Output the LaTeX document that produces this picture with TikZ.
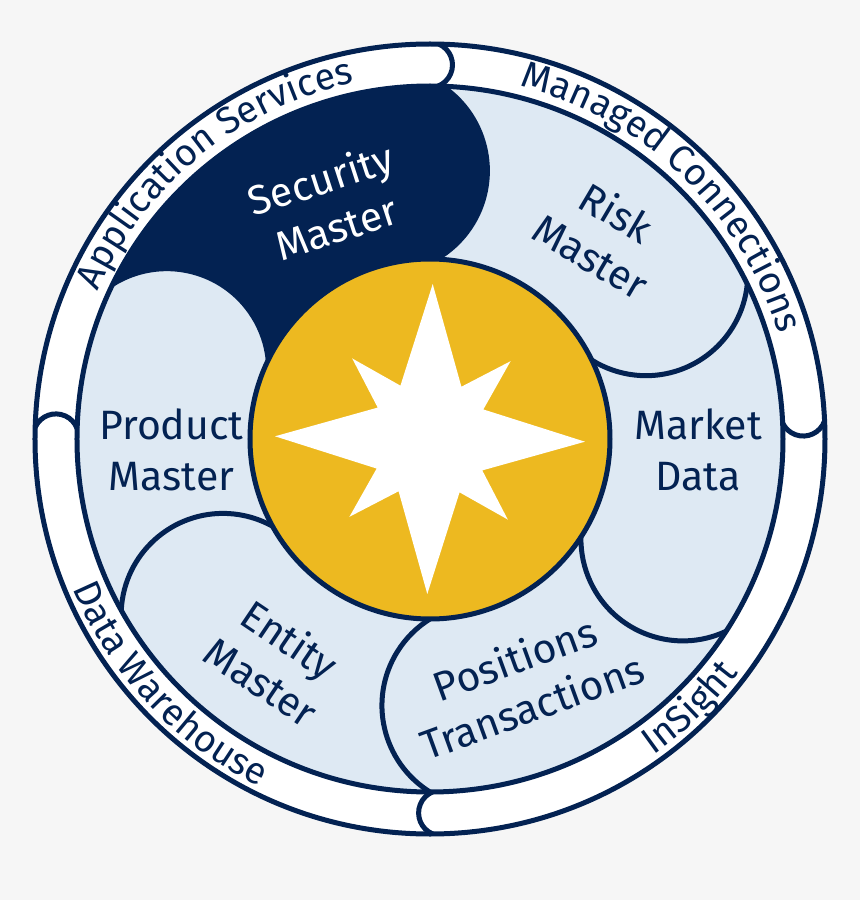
\documentclass[tikz,border=0pt]{standalone}
\usepackage{fontspec}
\setmainfont{Fira Sans}
\usetikzlibrary{decorations.text}
\definecolor{navy}{RGB}{3,34,82}
\definecolor{gold}{RGB}{237,185,32}
\definecolor{pale}{RGB}{222,233,243}
\definecolor{bgc}{RGB}{246,246,246}
\newcommand{\ringfont}{\fontsize{37.5}{40}\selectfont}
\begin{document}
\begin{tikzpicture}[x=1pt,y=1pt,
  lbl/.style={font=\fontsize{41}{51}\selectfont, align=center, text=navy, inner sep=0pt},
  capline/.style={draw=navy, line width=5pt},
  ringline/.style={draw=navy, line width=5pt},
  ringtext/.style={decorate, decoration={text along path, text align=center, text={|\ringfont\color{navy}|#1}}}
]
\fill[bgc] (-430,-461) rectangle (430,439);
\useasboundingbox (-430,-461) rectangle (430,439);
% outer ring band
\fill[white] (0,0) circle[radius=395];
\fill[pale] (0,0) circle[radius=353];
% Security Master segment (navy), cut by the Product Master cap
\fill[navy] (154:353) arc[start angle=154, end angle=88, radius=353]
   arc[start angle=56.1, end angle=-60.1, radius=101.9]
   arc[start angle=88, end angle=154, radius=180]
   arc[start angle=5.9, end angle=122.1, radius=101.9] -- cycle;
% cap outlines of the six segments
\foreach \t in {88,26,-33,-90,-151,154}{
  \draw[capline] (\t:353) arc[start angle={\t-31.9}, end angle={\t-148.1}, radius=101.9];
}
% ring lines and joins
\draw[ringline] (0,0) circle[radius=395];
\draw[ringline] (0,0) circle[radius=353];
\foreach \t in {88.7,2.6,178.3,-89.6}{
  \draw[ringline] (\t:395) arc[start angle={\t-22.6}, end angle={\t-157.4}, radius=22.75];
}
% centre disc and star
\draw[navy, line width=5pt, fill=gold] (0,0) circle[radius=180];
\fill[white, rotate=-1] (90:155) -- (60:61) -- (45:112) -- (30:61) -- (0:155) -- (-30:61)
  -- (-45:112) -- (-60:61) -- (-90:155) -- (-120:61) -- (-135:112) -- (-150:61)
  -- (180:155) -- (150:61) -- (135:112) -- (120:61) -- cycle;
% segment labels
\node[lbl, text=white, rotate=18] (sec) at (-102,236) {Security\\Master};
\node[lbl, rotate=-30.5] (risk) at (174,205) {Risk\\Master};
\node[lbl] (mkt) at (268,-11) {Market\\Data};
\node[lbl, rotate=20] (pos) at (93.5,-243) {Positions\\Transactions};
\node[lbl, rotate=-34] (ent) at (-154,-221) {Entity\\Master};
\node[lbl] (prod) at (-258.4,-11) {Product\\Master};
% ring labels
\path[ringtext={Application Services}] (199:364) arc[start angle=199, end angle=59, radius=364];
\path[ringtext={Managed Connections}] (116.2:364) arc[start angle=116.2, end angle=-23.8, radius=364];
\path[ringtext={Data Warehouse}] (163.3:387) arc[start angle=163.3, end angle=283.3, radius=387];
\path[ringtext={InSight}] (-106:387) arc[start angle=-106, end angle=14, radius=387];
\end{tikzpicture}
\end{document}
